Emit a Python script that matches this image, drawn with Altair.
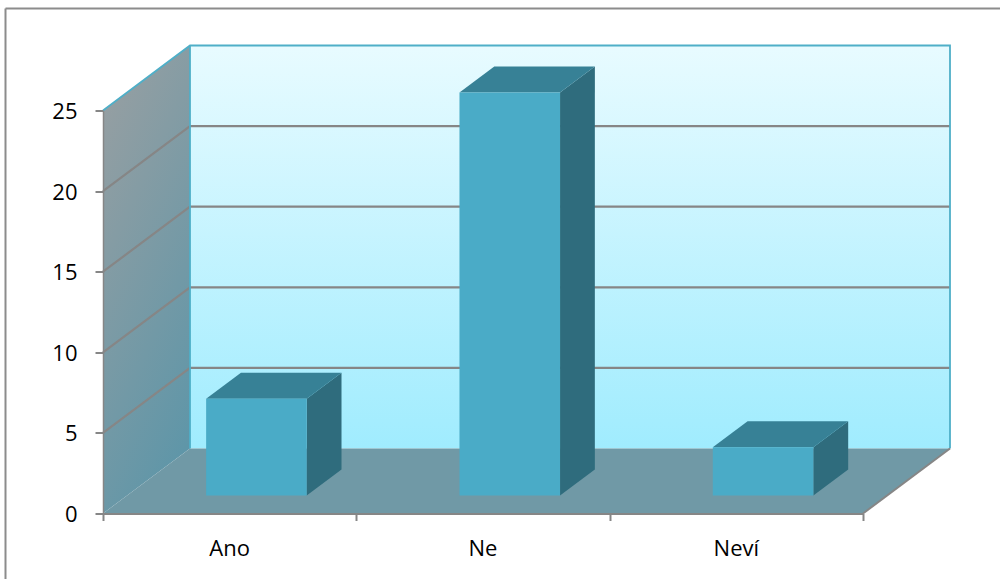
import altair as alt
import pandas as pd

# Survey answers and their counts
categories = ["Ano", "Ne", "Neví"]
counts = [6, 25, 3]
y_ticks = [0, 5, 10, 15, 20, 25]
x_ticks = [0, 1, 2, 3]

# Oblique projection: one unit of depth shifts a point right and up,
# expressed in category slots and in value units.
DEPTH_X = 87 / 253.33
DEPTH_Y = 65 / 16.12
SLOT_MAX = 3
VALUE_MAX = 25
BAR_START = 0.312
BAR_WIDTH = 0.397
BAR_DEPTH_FRONT = 0.277
BAR_DEPTH_BACK = 0.677


def pt(slot, value, depth):
    return slot + depth * DEPTH_X, value + depth * DEPTH_Y


def polygon_rows(name, p0, p1, p2, p3):
    """Rows for an x/y/y2 area covering the parallelogram p0-p1-p2-p3."""
    corners = (p0, p1, p2, p3)
    xs = sorted({round(p[0], 6) for p in corners})

    def at(a, b, x):
        if abs(b[0] - a[0]) < 1e-9:
            return None
        t = (x - a[0]) / (b[0] - a[0])
        return a[1] + t * (b[1] - a[1]) if -1e-6 <= t <= 1 + 1e-6 else None

    edges = [(p0, p1), (p1, p2), (p2, p3), (p3, p0)]
    rows = []
    for x in xs:
        hits = [v for a, b in edges if (v := at(a, b, x)) is not None]
        hits += [p[1] for p in corners if abs(p[0] - x) < 1e-5]
        rows.append({"shape": name, "x": x, "y": min(hits), "y2": max(hits)})
    return rows


x_scale = alt.Scale(domain=[0, SLOT_MAX], nice=False, zero=False)
y_scale = alt.Scale(domain=[0, VALUE_MAX], nice=False, zero=False)

x_enc = alt.X(
    "x:Q",
    scale=x_scale,
    axis=alt.Axis(
        values=x_ticks, labels=False, title=None, grid=False, zindex=1,
        tickSize=7, tickColor="#868686", tickWidth=2,
        domainColor="#868686", domainWidth=2,
    ),
)
y_enc = alt.Y(
    "y:Q",
    scale=y_scale,
    axis=alt.Axis(
        values=y_ticks, title=None, grid=False, zindex=1,
        tickSize=8, tickColor="#868686", tickWidth=2,
        domainColor="#868686", domainWidth=1.5,
        labelFont="Open Sans", labelFontSize=22, labelColor="#000000",
        labelPadding=18, labelOffset=1,
    ),
)


def face(rows, fill):
    return alt.Chart(pd.DataFrame(rows)).mark_area(fill=fill).encode(
        x=x_enc, y=y_enc, y2="y2:Q", detail="shape:N"
    )


def edge(points, color, width):
    rows = [{"x": p[0], "y": p[1], "i": i} for i, p in enumerate(points)]
    return alt.Chart(pd.DataFrame(rows)).mark_line(color=color, strokeWidth=width).encode(
        x=alt.X("x:Q", scale=x_scale),
        y=alt.Y("y:Q", scale=y_scale),
        order="i:Q",
    )


wall_fill = alt.LinearGradient(
    gradient="linear", x1=0, y1=0, x2=0, y2=1,
    stops=[alt.GradientStop(color="#e8fbff", offset=0), alt.GradientStop(color="#a0ecfe", offset=1)],
)
side_fill = alt.LinearGradient(
    gradient="linear", x1=0.2, y1=0, x2=0.6, y2=1,
    stops=[alt.GradientStop(color="#979fa2", offset=0), alt.GradientStop(color="#5f96a8", offset=1)],
)

back_wall = polygon_rows("back", pt(0, 0, 1), pt(SLOT_MAX, 0, 1), pt(SLOT_MAX, VALUE_MAX, 1), pt(0, VALUE_MAX, 1))
side_wall = polygon_rows("side", pt(0, 0, 0), pt(0, 0, 1), pt(0, VALUE_MAX, 1), pt(0, VALUE_MAX, 0))
floor = polygon_rows("floor", pt(0, 0, 0), pt(SLOT_MAX, 0, 0), pt(SLOT_MAX, 0, 1), pt(0, 0, 1))

layers = [
    face(back_wall, wall_fill),
    face(side_wall, side_fill),
    face(floor, "#7099a6"),
]

# Gridlines run along the side wall and across the back wall
for tick in y_ticks[1:-1]:
    layers.append(edge([pt(0, tick, 0), pt(0, tick, 1), pt(SLOT_MAX, tick, 1)], "#868686", 2.2))

# Wall outlines
layers.append(edge([pt(0, VALUE_MAX, 0), pt(0, VALUE_MAX, 1), pt(SLOT_MAX, VALUE_MAX, 1), pt(SLOT_MAX, 0, 1)], "#4fafc8", 1.8))
layers.append(edge([pt(0, 0, 1), pt(0, VALUE_MAX, 1)], "#4fafc8", 1.8))
layers.append(edge([pt(SLOT_MAX, 0, 0), pt(SLOT_MAX, 0, 1)], "#868686", 2))

# Bars: side, top and front face of each box
for i, count in enumerate(counts):
    left = i + BAR_START
    right = left + BAR_WIDTH
    f, b = BAR_DEPTH_FRONT, BAR_DEPTH_BACK
    layers.append(face(polygon_rows(f"side{i}", pt(right, 0, f), pt(right, 0, b), pt(right, count, b), pt(right, count, f)), "#2f6c7d"))
    layers.append(face(polygon_rows(f"top{i}", pt(left, count, f), pt(right, count, f), pt(right, count, b), pt(left, count, b)), "#378196"))
    layers.append(face(polygon_rows(f"front{i}", pt(left, 0, f), pt(right, 0, f), pt(right, count, f), pt(left, count, f)), "#4aabc7"))

# Category names sit centred under each slot
labels = pd.DataFrame({"x": [i + 0.5 for i in range(len(categories))], "y": [0] * len(categories), "label": categories})
layers.append(
    alt.Chart(labels).mark_text(font="Open Sans", fontSize=22, color="#000000", dy=35).encode(
        x=alt.X("x:Q", scale=x_scale),
        y=alt.Y("y:Q", scale=y_scale),
        text="label:N",
    )
)

# Chart frame: top and left lines
frame_probe = pd.DataFrame({"a": [0]})
layers.append(alt.Chart(frame_probe).mark_rule(color="#8c8c8c", strokeWidth=2).encode(
    x=alt.value(-97.5), y=alt.value(-102), x2=alt.value(897)))
layers.append(alt.Chart(frame_probe).mark_rule(color="#8c8c8c", strokeWidth=2).encode(
    x=alt.value(-97.5), y=alt.value(-102), y2=alt.value(469)))

chart = (
    alt.layer(*layers)
    .properties(
        width=760,
        height=403,
        padding={"left": 103, "top": 110.5, "right": 137, "bottom": 65.5},
        autosize=alt.AutoSizeParams(type="none"),
        background="#ffffff",
    )
    .configure_view(stroke=None)
)

chart.save("out.html", embed_options={"renderer": "svg", "actions": False})
